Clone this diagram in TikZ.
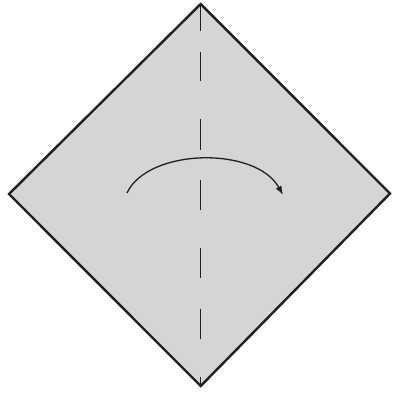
\documentclass[tikz,border=0pt]{standalone}
\usetikzlibrary{arrows.meta}
\definecolor{paper}{RGB}{212,213,215}
\definecolor{ink}{RGB}{35,31,32}
\tikzset{
  outline/.style={draw=ink, line width=2.4pt, line join=miter, fill=paper},
  crease/.style={draw=ink, line width=1.4pt},
  foldarrow/.style={draw=ink, line width=1.3pt, -{Latex[length=9pt,width=6.5pt]}}
}
\begin{document}
\begin{tikzpicture}[x=1pt,y=-1pt]
\useasboundingbox (0,0) rectangle (392,394);
\coordinate (T) at (200.7,4);
\coordinate (L) at (9,194);
\coordinate (R) at (390,193.5);
\coordinate (B) at (200.7,386);
\path[outline] (T) -- (R) -- (B) -- (L) -- cycle;
\foreach \a/\b in {4/31, 52/81, 119/150, 180/210, 248/278, 309/339, 377/386}
  \draw[crease] (200.7,\a) -- (200.7,\b);
\coordinate (s) at (127,193);
\coordinate (e) at (283,195);
\draw[foldarrow] (s) .. controls (148,148) and (256,146) .. (e);
\end{tikzpicture}
\end{document}
